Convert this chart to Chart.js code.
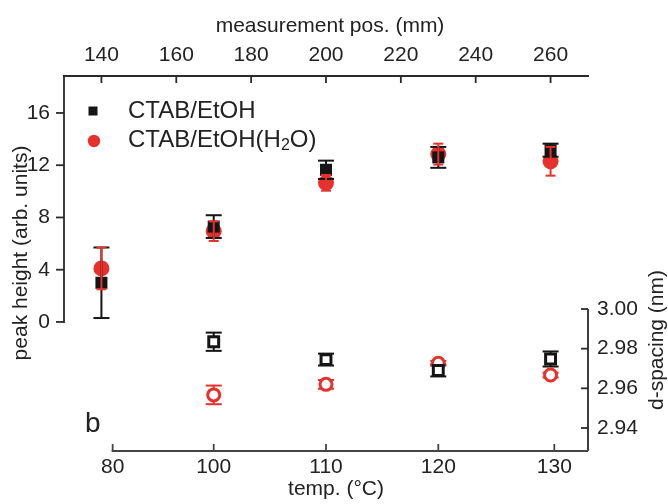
<!DOCTYPE html>
<html><head><meta charset="utf-8">
<script src="https://cdn.jsdelivr.net/npm/chart.js@4.4.1/dist/chart.umd.min.js"></script>
<style>html,body{margin:0;padding:0;background:#fff;}#wrap{width:668px;height:504px;}</style>
</head><body><div id="wrap"><canvas id="c" width="668" height="504"></canvas></div>
<script>
// ---- data ----
const positions   = [140, 170, 200, 230, 260];          // measurement pos. (mm)
const dPositions  = [170, 200, 230, 260];
const peakEtOH    = [3.0, 7.3, 11.65, 12.6, 13.15];
const peakEtOHErr = [2.7, 0.87, 0.7, 0.8, 0.5];
const peakH2O     = [4.1, 6.95, 10.65, 12.85, 12.3];
const peakH2OErr  = [1.6, 0.75, 0.6, 0.8, 1.1];
const dEtOH       = [2.9835, 2.9745, 2.969, 2.9748];
const dEtOHErr    = [0.0046, 0.003, 0.003, 0.0038];
const dH2O        = [2.9567, 2.962, 2.9726, 2.9667];
const dH2OErr     = [0.0047, 0.0022, 0.0012, 0.0012];
const posTicks    = [140, 160, 180, 200, 220, 240, 260];
const peakTicks   = [0, 4, 8, 12, 16];
const dTicks      = [2.94, 2.96, 2.98, 3.00];
const tempTicks   = [80, 100, 110, 120, 130];          // temp. (°C) labels
const tempTickPos = [143, 170, 200, 230, 261];         // matching measurement pos.
const seriesNames = ['CTAB/EtOH', 'CTAB/EtOH(H2O)'];

const FONT = '"Liberation Sans", Arial, sans-serif';
const TXT = '#222';
const RED = '#e5322d';
const BLK = '#151515';
const tickFont = {family: FONT, size: 21};

function pts(xs, ys) { return xs.map((x, i) => ({x: x, y: ys[i]})); }

const deco = {
  id: 'deco',
  beforeDatasetsDraw(chart) { drawErr(chart, [2, 3]); },
  afterDatasetsDraw(chart) { drawErr(chart, [0, 1]); },
  afterDraw(chart) {
    const ctx = chart.ctx;
    const sx = chart.scales.x, sxb = chart.scales.xb, sy = chart.scales.y, sy2 = chart.scales.y2;
    const ca = chart.chartArea;
    ctx.save();
    ctx.strokeStyle = '#2a2a2a';
    ctx.lineWidth = 1.8;
    ctx.lineCap = 'butt';
    // top axis
    line(ctx, ca.left - 1, ca.top, ca.right + 1, ca.top);
    posTicks.forEach(v => { const p = sx.getPixelForValue(v); line(ctx, p, ca.top, p, ca.top + 7); });
    // left axis (down to 0)
    const y0 = sy.getPixelForValue(peakTicks[0]);
    line(ctx, ca.left, ca.top, ca.left, y0 + 1);
    peakTicks.forEach(v => { const p = sy.getPixelForValue(v); line(ctx, ca.left - 8, p, ca.left, p); });
    // right axis (from 3.00 down)
    const yTop = sy2.getPixelForValue(dTicks[dTicks.length - 1]);
    line(ctx, ca.right, yTop, ca.right, ca.bottom);
    dTicks.forEach(v => { const p = sy2.getPixelForValue(v); line(ctx, ca.right - 7, p, ca.right, p); });
    // bottom axis (from 80 °C)
    ctx.strokeStyle = '#444';
    const xStart = sxb.getPixelForValue(tempTickPos[0]);
    line(ctx, xStart - 1, ca.bottom, ca.right, ca.bottom);
    tempTickPos.forEach(v => { const p = sxb.getPixelForValue(v); line(ctx, p, ca.bottom, p, ca.bottom - 7); });

    // titles
    ctx.fillStyle = TXT;
    ctx.textBaseline = 'middle';
    ctx.textAlign = 'center';
    ctx.font = '21px ' + FONT;
    ctx.fillText('measurement pos. (mm)', 330, 26);
    ctx.fillText('temp. (\u00B0C)', 336, 489);
    rot(ctx, 'peak height (arb. units)', 21, 253);
    rot(ctx, 'd-spacing (nm)', 657, 340);
    // panel letter
    ctx.textAlign = 'left';
    ctx.textBaseline = 'alphabetic';
    ctx.font = '28px ' + FONT;
    ctx.fillText('b', 85, 432);

    // legend
    ctx.fillStyle = BLK;
    ctx.fillRect(88.5, 106.5, 9, 9);
    ctx.fillStyle = RED;
    ctx.beginPath(); ctx.arc(94, 141, 6.2, 0, Math.PI * 2); ctx.fill();
    ctx.fillStyle = TXT;
    ctx.font = '24px ' + FONT;
    ctx.textBaseline = 'middle';
    ctx.fillText(seriesNames[0], 128, 111);
    let x = 128;
    const parts = [['CTAB/EtOH(H', 0, 24], ['2', 6, 16], ['O)', 0, 24]];
    parts.forEach(([t, dy, fs]) => {
      ctx.font = fs + 'px ' + FONT;
      ctx.fillText(t, x, 140 + dy);
      x += ctx.measureText(t).width;
    });
    ctx.restore();
  }
};
function line(ctx, x1, y1, x2, y2) { ctx.beginPath(); ctx.moveTo(x1, y1); ctx.lineTo(x2, y2); ctx.stroke(); }
function rot(ctx, t, x, y) { ctx.save(); ctx.translate(x, y); ctx.rotate(-Math.PI / 2); ctx.fillText(t, 0, 0); ctx.restore(); }
function drawErr(chart, idxs) {
  const ctx = chart.ctx;
  ctx.save();
  idxs.forEach(i => {
    const ds = chart.data.datasets[i];
    const meta = chart.getDatasetMeta(i);
    const ys = chart.scales[ds.yAxisID];
    ctx.strokeStyle = ds.errColor;
    ctx.lineWidth = ds.errWidth;
    meta.data.forEach((el, j) => {
      const v = ds.data[j].y, e = ds.err[j];
      const x = el.x, a = ys.getPixelForValue(v + e), b = ys.getPixelForValue(v - e);
      line(ctx, x, a, x, b);
      line(ctx, x - ds.cap, a, x + ds.cap, a);
      line(ctx, x - ds.cap, b, x + ds.cap, b);
    });
  });
  ctx.restore();
}

const common = {grid: {display: false, drawTicks: false, tickLength: 0}, border: {display: false}};
new Chart(document.getElementById('c'), {
  type: 'scatter',
  data: {
    datasets: [
      {label: seriesNames[0], data: pts(positions, peakEtOH), err: peakEtOHErr, xAxisID: 'x', yAxisID: 'y',
       pointStyle: 'rect', pointRadius: 8.5, backgroundColor: BLK, borderColor: BLK, borderWidth: 0,
       errColor: BLK, errWidth: 2, cap: 8},
      {label: seriesNames[1], data: pts(positions, peakH2O), err: peakH2OErr, xAxisID: 'x', yAxisID: 'y',
       pointStyle: 'circle', pointRadius: 8, backgroundColor: RED, borderColor: RED, borderWidth: 0,
       errColor: RED, errWidth: 2, cap: 5},
      {label: seriesNames[0] + ' d', data: pts(dPositions, dEtOH), err: dEtOHErr, xAxisID: 'x', yAxisID: 'y2',
       pointStyle: 'rect', pointRadius: 7, backgroundColor: '#fff', borderColor: BLK, borderWidth: 3,
       errColor: BLK, errWidth: 2, cap: 8},
      {label: seriesNames[1] + ' d', data: pts(dPositions, dH2O), err: dH2OErr, xAxisID: 'x', yAxisID: 'y2',
       pointStyle: 'circle', pointRadius: 6, backgroundColor: '#fff', borderColor: RED, borderWidth: 3,
       errColor: RED, errWidth: 2, cap: 8}
    ]
  },
  options: {
    responsive: false, animation: false, events: [],
    layout: {padding: 0},
    plugins: {legend: {display: false}, tooltip: {enabled: false}},
    scales: {
      x: Object.assign({}, common, {
        type: 'linear', position: 'top', min: 130, max: 270,
        afterBuildTicks: s => { s.ticks = posTicks.map(v => ({value: v})); },
        afterFit: s => { s.height = 76; },
        ticks: {padding: 8, font: tickFont, color: TXT, autoSkip: false, maxRotation: 0}
      }),
      xb: Object.assign({}, common, {
        type: 'linear', position: 'bottom', min: 130, max: 270,
        afterBuildTicks: s => { s.ticks = tempTickPos.map(v => ({value: v})); },
        afterFit: s => { s.height = 53; },
        ticks: {padding: 4, font: tickFont, color: TXT, autoSkip: false, maxRotation: 0,
                callback: (v, i) => String(tempTicks[i])}
      }),
      y: Object.assign({}, common, {
        type: 'linear', position: 'left', min: -9.88, max: 18.83,
        afterBuildTicks: s => { s.ticks = peakTicks.map(v => ({value: v})); },
        afterFit: s => { s.width = 64; },
        ticks: {padding: 14, font: tickFont, color: TXT, autoSkip: false}
      }),
      y2: Object.assign({}, common, {
        type: 'linear', position: 'right', min: 2.9284, max: 3.1175,
        afterBuildTicks: s => { s.ticks = dTicks.map(v => ({value: v})); },
        afterFit: s => { s.width = 80; },
        ticks: {padding: 9, font: tickFont, color: TXT, autoSkip: false, callback: v => Number(v).toFixed(2)}
      })
    }
  },
  plugins: [deco]
});
</script></body></html>
